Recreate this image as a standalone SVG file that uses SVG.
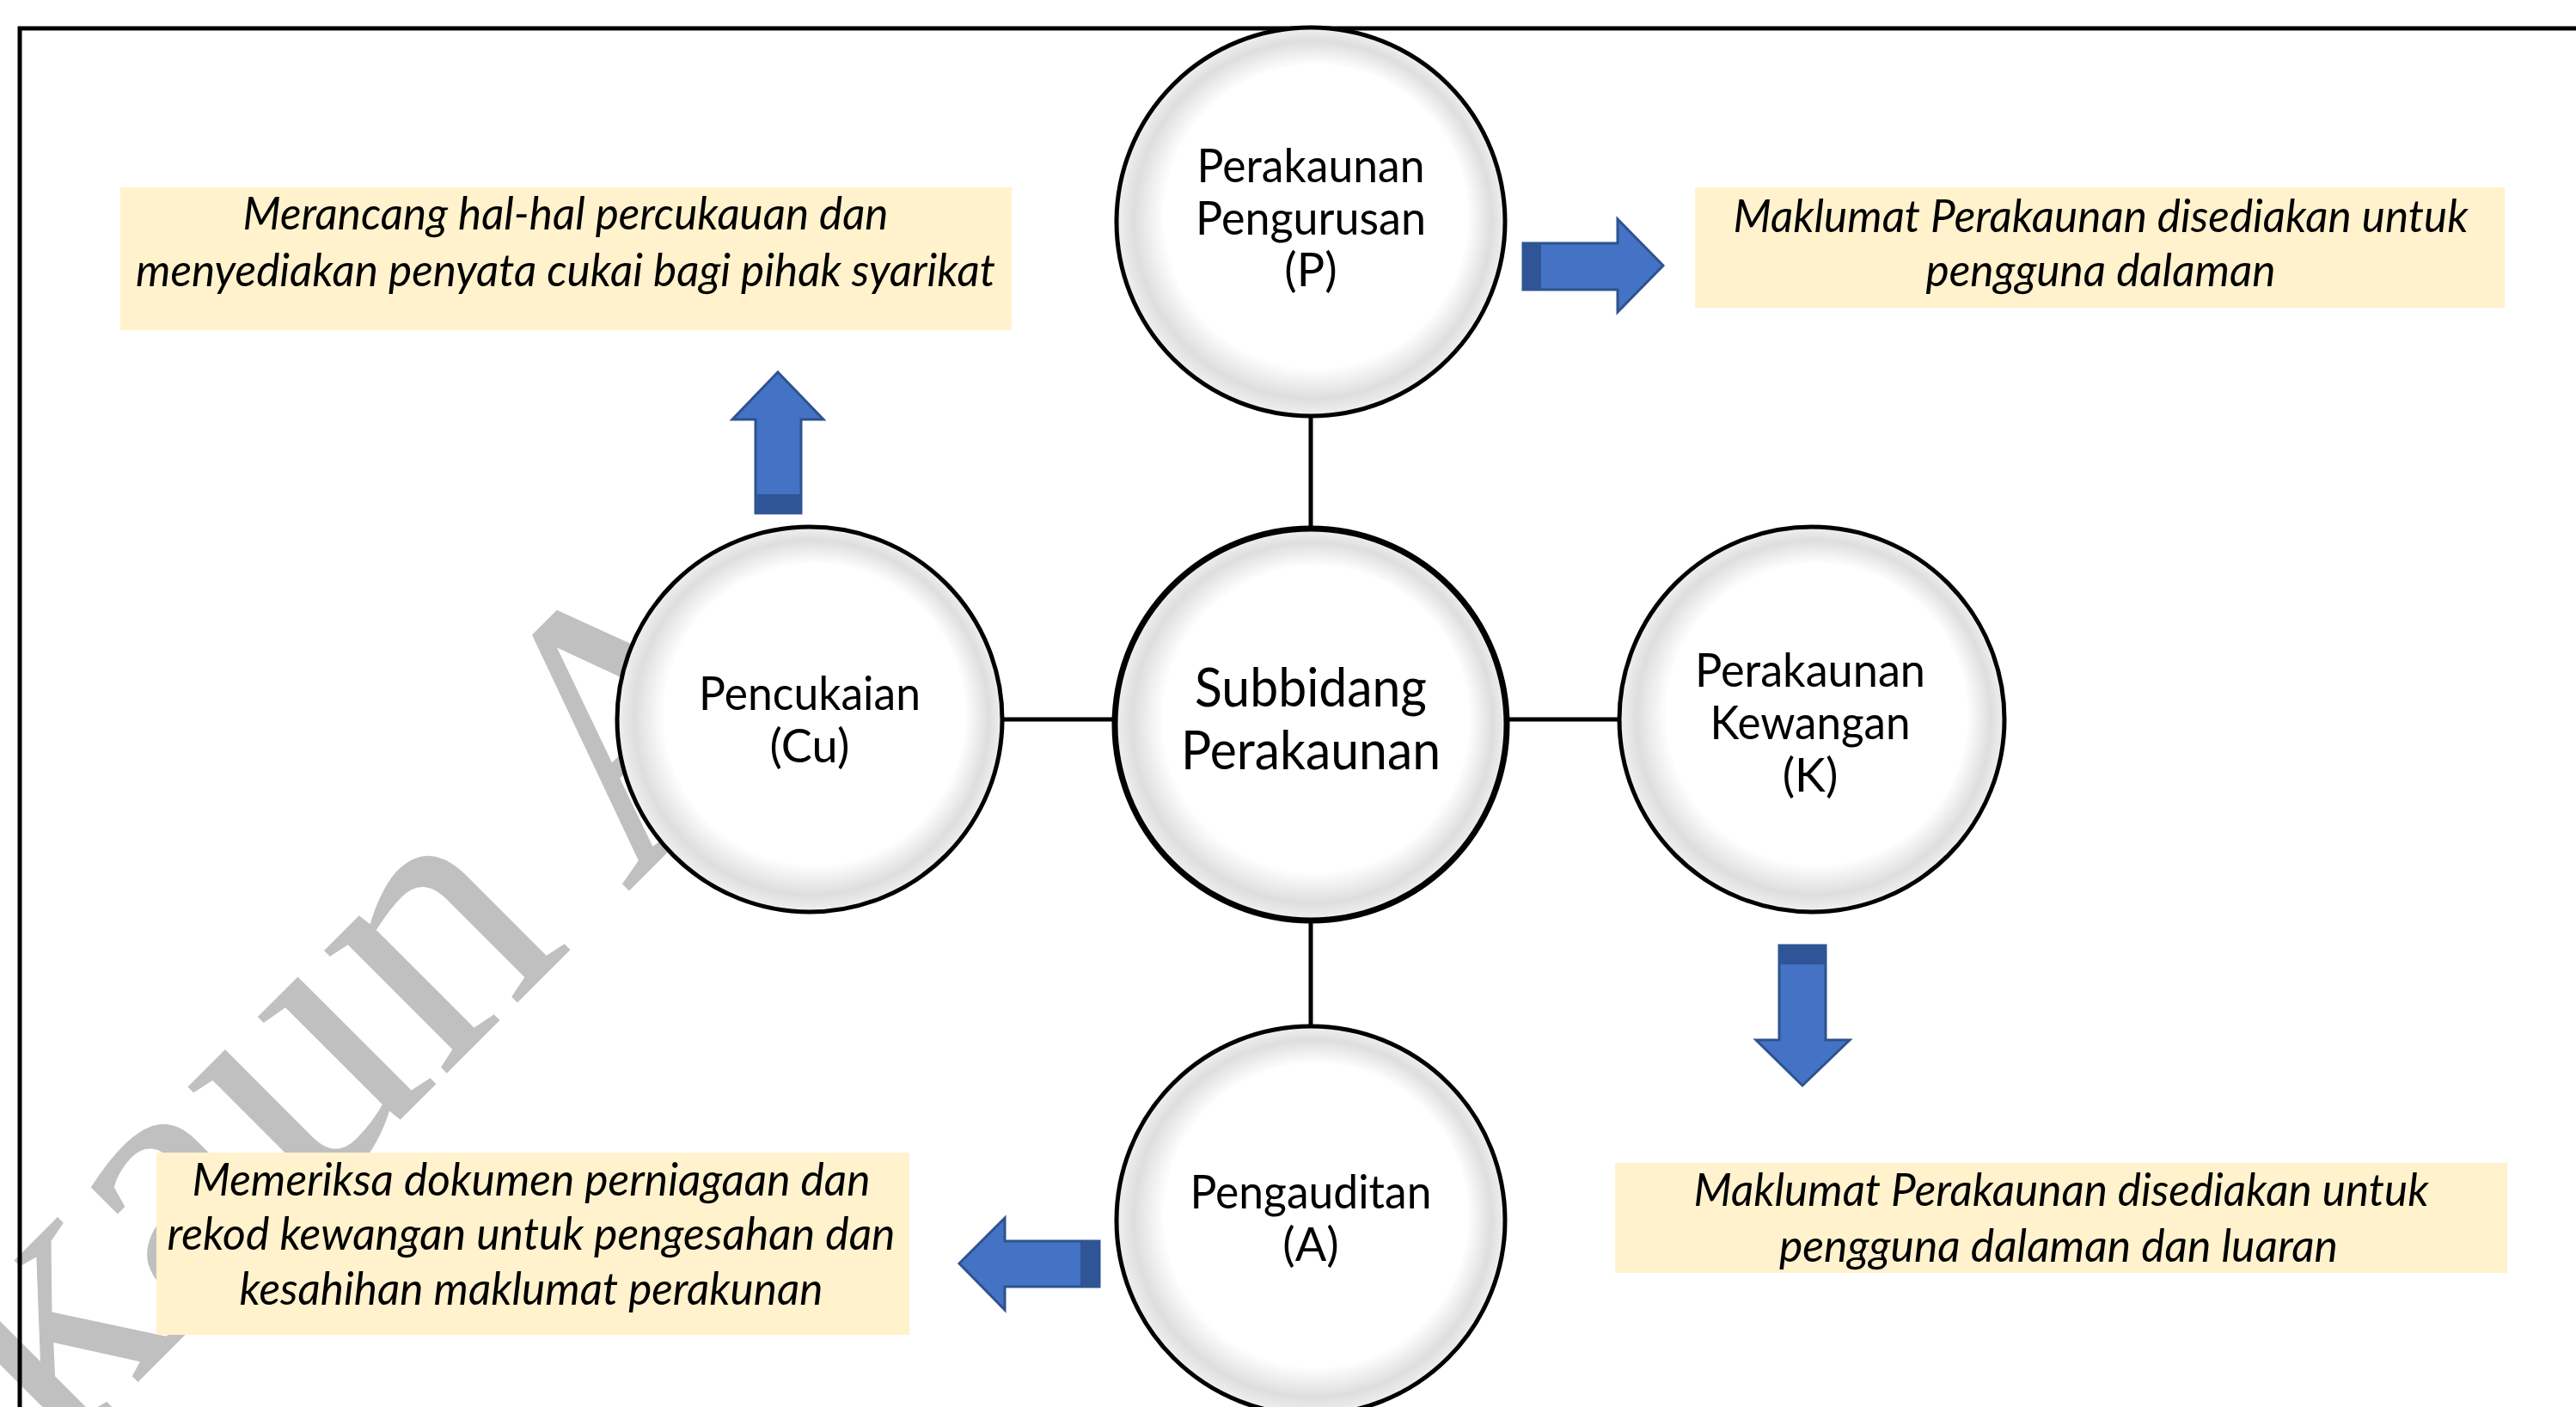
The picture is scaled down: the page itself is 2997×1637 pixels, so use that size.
<svg xmlns="http://www.w3.org/2000/svg" width="2997" height="1637" viewBox="0 0 2997 1637">
<defs>
<radialGradient id="bubble" cx="0.5" cy="0.5" r="0.5" fx="0.56" fy="0.44">
<stop offset="0" stop-color="#ffffff"/>
<stop offset="0.78" stop-color="#ffffff"/>
<stop offset="0.92" stop-color="#dedede"/>
<stop offset="1" stop-color="#f0f0f0"/>
</radialGradient>
<style>
.bg{fill:#ffffff}
.frame{fill:none;stroke:#000;stroke-width:5}
.wm{font-family:"Liberation Serif",serif;font-size:440px;fill:#c0c0c0}
.circ{fill:url(#bubble);stroke:#000;stroke-width:5}
.circ-c{fill:url(#bubble);stroke:#000;stroke-width:7}
.lbl{font-family:Lato,"Open Sans",sans-serif;font-size:54px;fill:#000;text-anchor:middle}
.lbl-c{font-family:Lato,"Open Sans",sans-serif;font-size:62px;fill:#000;text-anchor:middle}
.box{fill:#FFF2CC}
.note{font-family:Lato,"Open Sans",sans-serif;font-style:italic;font-size:52px;fill:#000;text-anchor:middle}
.link{stroke:#000;stroke-width:5;fill:none}
.arr{fill:#4472C4;stroke:#2F528F;stroke-width:3;stroke-linejoin:miter}
.band{fill:#2F5597}
</style>
</defs>
<rect class="bg" x="0" y="0" width="2997" height="1637"/>
<g id="watermark">
<text class="wm" transform="translate(0,1637) rotate(-45)" x="-321" y="93">Akaun A</text>
</g>
<rect class="frame" x="23" y="33" width="3100" height="1700"/>
<g id="connectors">
<line class="link" x1="1525" y1="480" x2="1525" y2="615"/>
<line class="link" x1="1164" y1="837" x2="1298" y2="837"/>
<line class="link" x1="1752" y1="837" x2="1886" y2="837"/>
<line class="link" x1="1525" y1="1072" x2="1525" y2="1198"/>
<g id="arrow-right">
<polygon class="arr" points="1772,283 1882,283 1882,255 1935,309 1882,363 1882,337 1772,337"/>
<rect class="band" x="1772" y="283" width="21" height="54"/>
</g>
<g id="arrow-up">
<polygon class="arr" points="905,433 958,488 932,488 932,597 879,597 879,488 852,488"/>
<rect class="band" x="879" y="575" width="53" height="22"/>
</g>
<g id="arrow-down">
<polygon class="arr" points="2070,1100 2124,1100 2124,1210 2152,1210 2097,1263 2043,1210 2070,1210"/>
<rect class="band" x="2070" y="1100" width="54" height="22"/>
</g>
<g id="arrow-left">
<polygon class="arr" points="1116,1470 1169,1417 1169,1444 1279,1444 1279,1497 1169,1497 1169,1524"/>
<rect class="band" x="1257" y="1444" width="22" height="53"/>
</g>
</g>
<g id="node-p">
<circle class="circ" cx="1525" cy="258" r="226"/>
<text class="lbl" x="1525" y="212" textLength="265" lengthAdjust="spacingAndGlyphs">Perakaunan</text>
<text class="lbl" x="1525" y="273" textLength="268" lengthAdjust="spacingAndGlyphs">Pengurusan</text>
<text class="lbl" x="1525" y="333">(P)</text>
</g>
<g id="node-center">
<circle class="circ-c" cx="1525" cy="843" r="228"/>
<text class="lbl-c" x="1525" y="822" textLength="270" lengthAdjust="spacingAndGlyphs">Subbidang</text>
<text class="lbl-c" x="1525" y="895" textLength="302" lengthAdjust="spacingAndGlyphs">Perakaunan</text>
</g>
<g id="node-cu">
<circle class="circ" cx="942" cy="837" r="224"/>
<text class="lbl" x="942" y="826" textLength="258" lengthAdjust="spacingAndGlyphs">Pencukaian</text>
<text class="lbl" x="942" y="887">(Cu)</text>
</g>
<g id="node-k">
<circle class="circ" cx="2108" cy="837" r="224"/>
<text class="lbl" x="2106" y="799" textLength="268" lengthAdjust="spacingAndGlyphs">Perakaunan</text>
<text class="lbl" x="2106" y="860" textLength="233" lengthAdjust="spacingAndGlyphs">Kewangan</text>
<text class="lbl" x="2106" y="921">(K)</text>
</g>
<g id="node-a">
<circle class="circ" cx="1525" cy="1420" r="226"/>
<text class="lbl" x="1525" y="1406" textLength="281" lengthAdjust="spacingAndGlyphs">Pengauditan</text>
<text class="lbl" x="1525" y="1467">(A)</text>
</g>
<g id="note-cu">
<rect class="box" x="140" y="218" width="1037" height="166"/>
<text class="note" x="658" y="267" textLength="751" lengthAdjust="spacingAndGlyphs">Merancang hal-hal percukauan dan</text>
<text class="note" x="658" y="333" textLength="1000" lengthAdjust="spacingAndGlyphs">menyediakan penyata cukai bagi pihak syarikat</text>
</g>
<g id="note-p">
<rect class="box" x="1972" y="218" width="942" height="140"/>
<text class="note" x="2444" y="270" textLength="855" lengthAdjust="spacingAndGlyphs">Maklumat Perakaunan disediakan untuk</text>
<text class="note" x="2444" y="333" textLength="407" lengthAdjust="spacingAndGlyphs">pengguna dalaman</text>
</g>
<g id="note-k">
<rect class="box" x="1879" y="1353" width="1038" height="128"/>
<text class="note" x="2398" y="1403" textLength="855" lengthAdjust="spacingAndGlyphs">Maklumat Perakaunan disediakan untuk</text>
<text class="note" x="2395" y="1468" textLength="650" lengthAdjust="spacingAndGlyphs">pengguna dalaman dan luaran</text>
</g>
<g id="note-a">
<rect class="box" x="182" y="1341" width="876" height="212"/>
<text class="note" x="618" y="1391" textLength="789" lengthAdjust="spacingAndGlyphs">Memeriksa dokumen perniagaan dan</text>
<text class="note" x="618" y="1454" textLength="847" lengthAdjust="spacingAndGlyphs">rekod kewangan untuk pengesahan dan</text>
<text class="note" x="618" y="1518" textLength="679" lengthAdjust="spacingAndGlyphs">kesahihan maklumat perakunan</text>
</g>
</svg>
